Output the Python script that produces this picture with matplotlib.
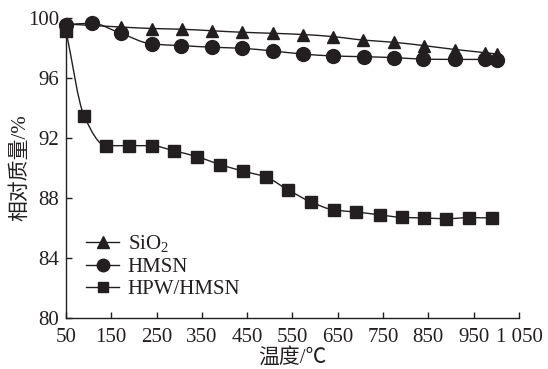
import numpy as np
import matplotlib
matplotlib.use('Agg')
import matplotlib.pyplot as plt
from matplotlib.path import Path
from matplotlib.patches import PathPatch
from matplotlib.lines import Line2D

# TGA curves: temperature (C) vs relative mass (%)
t_sio2 = [50, 171, 240, 306, 372, 438, 507, 573, 639, 706, 774, 840, 909, 975, 1001]
m_sio2 = [99.6, 99.4, 99.3, 99.25, 99.15, 99.05, 98.98, 98.9, 98.76, 98.53,
          98.38, 98.16, 97.9, 97.69, 97.6]

t_hmsn = [50, 107, 171, 239, 305, 373, 439, 506, 573, 639, 708, 774, 838, 909, 975, 1001]
m_hmsn = [99.55, 99.65, 98.98, 98.27, 98.16, 98.05, 97.98, 97.8, 97.6, 97.47,
          97.42, 97.36, 97.26, 97.24, 97.24, 97.22]

t_hpw = [50, 90, 138, 190, 239, 288, 340, 391, 440, 491, 541, 590, 642, 690,
         744, 791, 841, 890, 940, 991]
m_hpw = [99.15, 93.47, 91.49, 91.49, 91.49, 91.15, 90.75, 90.22, 89.8, 89.4,
         88.53, 87.75, 87.2, 87.07, 86.87, 86.71, 86.67, 86.62, 86.69, 86.67]

xticks = [50, 150, 250, 350, 450, 550, 650, 750, 850, 950, 1050]
xticklabels = ['50', '150', '250', '350', '450', '550', '650', '750', '850', '950', '1 050']
yticks = [80, 84, 88, 92, 96, 100]

ink = '#231f20'
serif = ['Liberation Serif', 'Noto Sans CJK SC', 'DejaVu Sans']
plt.rcParams['font.family'] = serif
plt.rcParams['mathtext.fontset'] = 'custom'
plt.rcParams['mathtext.rm'] = 'Liberation Serif'
plt.rcParams['font.size'] = 15


def smooth_path(x, y):
    # monotone cubic (Fritsch-Carlson) tangents, written as bezier segments
    x = np.asarray(x, float)
    y = np.asarray(y, float)
    h = np.diff(x)
    d = np.diff(y) / h
    m = np.zeros_like(y)
    m[0], m[-1] = d[0], d[-1]
    for i in range(1, len(x) - 1):
        if d[i - 1] * d[i] <= 0:
            m[i] = 0.
        else:
            w1 = 2 * h[i] + h[i - 1]
            w2 = h[i] + 2 * h[i - 1]
            m[i] = (w1 + w2) / (w1 / d[i - 1] + w2 / d[i])
    verts = [(x[0], y[0])]
    codes = [Path.MOVETO]
    for i in range(len(x) - 1):
        verts += [(x[i] + h[i] / 3, y[i] + m[i] * h[i] / 3),
                  (x[i + 1] - h[i] / 3, y[i + 1] - m[i + 1] * h[i] / 3),
                  (x[i + 1], y[i + 1])]
        codes += [Path.CURVE4] * 3
    return Path(verts, codes)


fig = plt.figure(figsize=(5.48, 3.69), dpi=100)
ax = fig.add_axes([0.1204, 0.1382, 0.8266, 0.813])

series = [(t_sio2, m_sio2, '^', 9, 'SiO$_2$'),
          (t_hmsn, m_hmsn, 'o', 10, 'HMSN'),
          (t_hpw, m_hpw, 's', 8, 'HPW/HMSN')]

handles = []
for tt, mm, mk, ms, lab in series:
    ax.add_patch(PathPatch(smooth_path(tt, mm), facecolor='none',
                           edgecolor=ink, lw=1.0, zorder=2))
    ax.plot(tt, mm, linestyle='none', marker=mk, ms=ms, color=ink,
            markeredgecolor=ink, zorder=3, clip_on=False)
    handles.append(Line2D([], [], color=ink, lw=1.0, marker=mk, ms=ms * 0.9,
                          label=lab))

ax.set_xlim(50, 1050)
ax.set_ylim(80, 100)
ax.set_xticks(xticks)
ax.set_xticklabels(xticklabels)
ax.set_yticks(yticks)
ax.tick_params(direction='in', length=4, width=1, color=ink, labelcolor=ink)
ax.tick_params(axis='x', pad=7)
ax.tick_params(axis='y', pad=5)
for s in ['top', 'right']:
    ax.spines[s].set_visible(False)
for s in ['left', 'bottom']:
    ax.spines[s].set_color(ink)
    ax.spines[s].set_linewidth(1.0)

ax.set_xlabel('温度/℃', color=ink, labelpad=1)
ax.set_ylabel('相对质量/%', color=ink, labelpad=-2)

ax.legend(handles=handles, loc='upper left', bbox_to_anchor=(0.026, 0.31),
          frameon=False, handlelength=1.6, handletextpad=0.4, labelspacing=0.12,
          borderaxespad=0, labelcolor=ink)

plt.savefig('out.png', dpi=100)
